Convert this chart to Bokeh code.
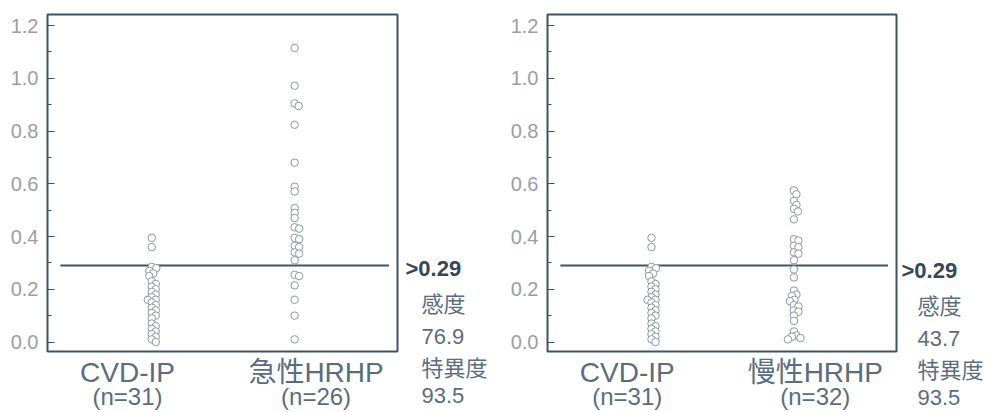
from bokeh.plotting import figure
from bokeh.layouts import row
from bokeh.models import LinearAxis, FixedTicker, Range1d, ColumnDataSource
from bokeh.core.properties import value
from bokeh.embed import file_html
from bokeh.resources import INLINE

# ---------------- data ----------------
y_ticks = [0.0, 0.2, 0.4, 0.6, 0.8, 1.0, 1.2]
y_tick_labels = ["0.0", "0.2", "0.4", "0.6", "0.8", "1.0", "1.2"]
y_minor_ticks = [0.1, 0.3, 0.5, 0.7, 0.9, 1.1]
cutoff = 0.29
cutoff_label = ">0.29"

left_groups = ["CVD-IP", "急性HRHP"]
left_n = ["(n=31)", "(n=26)"]
right_groups = ["CVD-IP", "慢性HRHP"]
right_n = ["(n=31)", "(n=32)"]

cvd_ip = [0.395, 0.36, 0.285, 0.28, 0.27, 0.26, 0.25, 0.23, 0.22, 0.21, 0.20,
          0.19, 0.18, 0.17, 0.16, 0.16, 0.15, 0.14, 0.13, 0.12, 0.11, 0.10,
          0.09, 0.07, 0.06, 0.05, 0.04, 0.03, 0.02, 0.01, 0.0]
acute_hrhp = [1.115, 0.972, 0.905, 0.895, 0.824, 0.68, 0.589, 0.571, 0.508,
              0.49, 0.47, 0.435, 0.43, 0.395, 0.39, 0.365, 0.36, 0.34, 0.335,
              0.31, 0.255, 0.25, 0.215, 0.16, 0.10, 0.01]
chronic_hrhp = [0.575, 0.56, 0.535, 0.52, 0.505, 0.495, 0.465, 0.39, 0.385,
                0.365, 0.36, 0.34, 0.335, 0.31, 0.275, 0.245, 0.195, 0.18,
                0.175, 0.16, 0.155, 0.14, 0.135, 0.12, 0.115, 0.10, 0.08,
                0.04, 0.025, 0.02, 0.015, 0.01]

left_stats = ["感度", "76.9", "特異度", "93.5"]
right_stats = ["感度", "43.7", "特異度", "93.5"]

# ---------------- style ----------------
FONT = "Liberation Sans, Noto Sans CJK JP"
FRAME = "#3d5467"
TEXT = "#5a6d7e"
TICK_TEXT = "#9a9ea3"
DOT = "#8e989f"
H = 412
TOP = 14


def swarm_offsets(vals, ypx, diam):
    placed, offs = [], []
    cands = [0.0]
    for k in range(1, 80):
        cands += [k * 0.5, -k * 0.5]
    for v in vals:
        y = v * ypx
        for c in cands:
            if all((c - px) ** 2 + (y - py) ** 2 >= diam ** 2 for px, py in placed):
                break
        placed.append((c, y))
        offs.append(c)
    return offs


def panel(width, bl, br, bb, groups, ns, series):
    xs, xe = -0.73, 1.72
    ys, ye = -0.036, 1.242
    frame_w = width - bl - br
    frame_h = H - TOP - bb
    xpx = frame_w / (xe - xs)
    ypx = frame_h / (ye - ys)

    p = figure(width=width, height=H, x_range=Range1d(xs, xe), y_range=Range1d(ys, ye),
               output_backend="svg", toolbar_location=None,
               min_border_left=bl, min_border_right=br, min_border_top=TOP,
               min_border_bottom=bb, x_axis_location=None)
    p.frame_align = False
    p.grid.visible = False
    p.outline_line_color = FRAME
    p.outline_line_width = 2
    p.outline_line_alpha = 1
    p.background_fill_color = "white"
    p.border_fill_color = "white"

    ya = p.yaxis[0]
    ya.ticker = FixedTicker(ticks=y_ticks, minor_ticks=y_minor_ticks)
    ya.major_label_overrides = {t: l for t, l in zip(y_ticks, y_tick_labels)}
    ya.axis_line_color = None
    ya.major_tick_in = 7
    ya.major_tick_out = 0
    ya.minor_tick_in = 4
    ya.minor_tick_out = 0
    ya.major_tick_line_color = FRAME
    ya.minor_tick_line_color = FRAME
    ya.major_label_text_font = FONT
    ya.major_label_text_font_size = "20px"
    ya.major_label_text_color = TICK_TEXT
    ya.major_label_standoff = 9

    label_pos = [-0.17, 1.15]
    ax1 = LinearAxis(ticker=FixedTicker(ticks=label_pos),
                     major_label_overrides={label_pos[i]: groups[i] for i in range(2)},
                     axis_line_color=None, major_tick_line_color=None,
                     minor_tick_line_color=None, major_tick_out=0, major_tick_in=0,
                     major_label_standoff=5, major_label_text_font=FONT,
                     major_label_text_font_size="28px", major_label_text_color=TEXT)
    ax2 = LinearAxis(ticker=FixedTicker(ticks=label_pos),
                     major_label_overrides={label_pos[i]: ns[i] for i in range(2)},
                     axis_line_color=None, major_tick_line_color=None,
                     minor_tick_line_color=None, major_tick_out=0, major_tick_in=0,
                     major_label_standoff=-8, major_label_text_font=FONT,
                     major_label_text_font_size="24px", major_label_text_color=TEXT)
    p.add_layout(ax1, "below")
    p.add_layout(ax2, "below")

    # cutoff line
    p.segment(x0=-0.64, y0=cutoff, x1=1.66, y1=cutoff, line_color=FRAME, line_width=2)

    # dots
    for gi, vals in enumerate(series):
        offs = swarm_offsets(vals, ypx, 4.6)
        src = ColumnDataSource(dict(x=[gi + o / xpx for o in offs], y=vals))
        p.scatter("x", "y", source=src, size=7.5, fill_color="white",
                  line_color=DOT, line_width=1)

    # y range for the side text figure, same pixel scale as the plot frame
    side_range = Range1d(ys - bb / ypx, ye + TOP / ypx)
    return p, side_range


def side_text(width, yr, x_head, x_body, stats):
    t = figure(width=width, height=H, x_range=Range1d(0, width), y_range=yr,
               output_backend="svg", toolbar_location=None,
               min_border_left=0, min_border_right=0, min_border_top=0,
               min_border_bottom=0, x_axis_location=None, y_axis_location=None)
    t.frame_align = False
    t.grid.visible = False
    t.outline_line_color = None
    t.background_fill_color = "white"
    t.border_fill_color = "white"
    t.text(x=[x_head], y=[cutoff], text=[cutoff_label], text_font=value(FONT),
           text_font_size="22px", text_font_style="bold", text_color="#33475a",
           text_baseline="middle")
    src = ColumnDataSource(dict(x=[x_body] * len(stats), y=[cutoff] * len(stats),
                                text=stats, dy=[36, 68, 100, 127]))
    t.text(x="x", y="y", text="text", y_offset="dy", source=src, text_font=value(FONT),
           text_font_size="22px", text_color=TEXT, text_baseline="middle")
    return t


p1, yr1 = panel(400, 47, 3, 57, left_groups, left_n, [cvd_ip, acute_hrhp])
t1 = side_text(98, yr1, 5, 21, left_stats)
p2, yr2 = panel(401, 49, 3, 55, right_groups, right_n, [cvd_ip, chronic_hrhp])
t2 = side_text(91, yr2, 2, 18, right_stats)

layout = row(p1, t1, p2, t2)
open("out.html", "w").write(file_html(layout, INLINE))
